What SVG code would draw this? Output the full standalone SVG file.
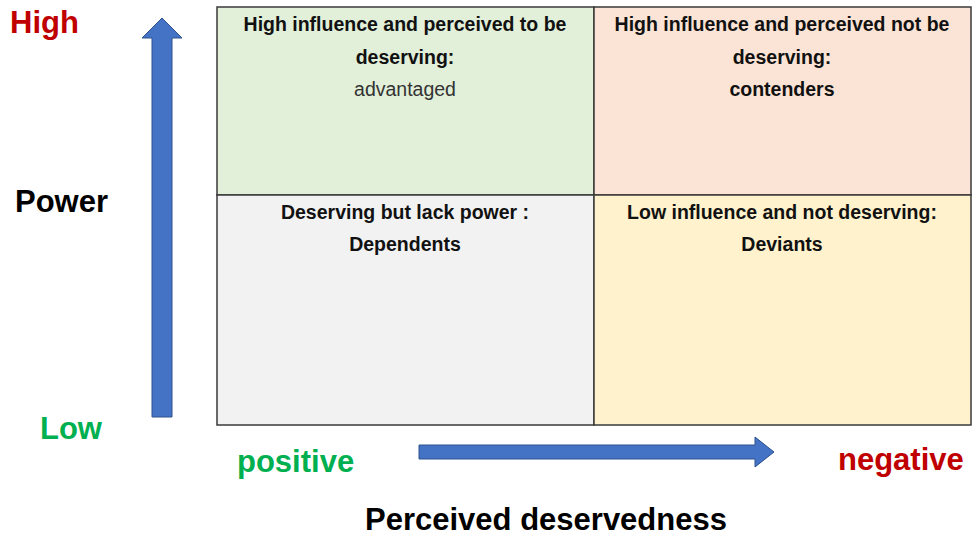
<svg xmlns="http://www.w3.org/2000/svg" width="975" height="540" viewBox="0 0 975 540">
<style>
.cell{stroke:#3a3a3a;stroke-width:1.5}
.ct{font-family:"Liberation Sans",Arial,sans-serif;font-weight:bold;font-size:19.5px;fill:#111;text-anchor:middle}
.cn{font-family:"Liberation Sans",Arial,sans-serif;font-size:19.5px;fill:#333;text-anchor:middle}
.lab{font-family:"Liberation Sans",Arial,sans-serif;font-weight:bold;font-size:31px}
.arrow{fill:#4472c4;stroke:#2f528f;stroke-width:1}
</style>
<rect width="975" height="540" fill="#fff"/>
<g id="q-advantaged">
<rect class="cell" x="217" y="7" width="377" height="188" fill="#e2efd9"/>
<text class="ct" x="405" y="31">High influence and perceived to be</text>
<text class="ct" x="405" y="64">deserving:</text>
<text class="cn" x="405" y="96">advantaged</text>
</g>
<g id="q-contenders">
<rect class="cell" x="594" y="7" width="377" height="188" fill="#fbe4d5"/>
<text class="ct" x="782" y="31">High influence and perceived not be</text>
<text class="ct" x="782" y="64">deserving:</text>
<text class="ct" x="782" y="96">contenders</text>
</g>
<g id="q-dependents">
<rect class="cell" x="217" y="195" width="377" height="230" fill="#f2f2f2"/>
<text class="ct" x="405" y="219">Deserving but lack power :</text>
<text class="ct" x="405" y="251">Dependents</text>
</g>
<g id="q-deviants">
<rect class="cell" x="594" y="195" width="377" height="230" fill="#fff2cc"/>
<text class="ct" x="782" y="219">Low influence and not deserving:</text>
<text class="ct" x="782" y="251">Deviants</text>
</g>
<g id="connectors">
<polygon class="arrow" points="152,417 172,417 172,38 182,38 162,18 142,38 152,38"/>
<polygon class="arrow" points="419,445 755,445 755,437 774,452 755,467 755,459 419,459"/>
</g>
<g id="labels">
<text class="lab" x="10" y="33" fill="#c00000" font-size="30">High</text>
<text class="lab" x="15" y="212" fill="#000" font-size="36">Power</text>
<text class="lab" x="40" y="439" fill="#00b050" font-size="30">Low</text>
<text class="lab" x="237" y="472" fill="#00b050">positive</text>
<text class="lab" x="838" y="470" fill="#c00000" font-size="32">negative</text>
<text class="lab" x="546" y="530" fill="#000" text-anchor="middle" font-size="32">Perceived deservedness</text>
</g>
</svg>
